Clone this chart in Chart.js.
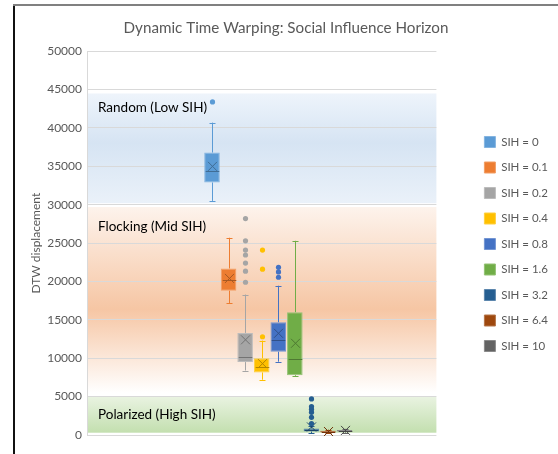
<!DOCTYPE html>
<html><head><meta charset="utf-8">
<script src="https://cdn.jsdelivr.net/npm/chart.js@4.4.1/dist/chart.umd.min.js"></script>
<style>
html,body{margin:0;padding:0;background:#fff;}
#wrap{position:relative;width:558px;height:454px;overflow:hidden;}
canvas{position:absolute;left:0;top:0;}
#fl{position:absolute;left:13px;top:4px;width:2px;height:450px;background:#111;}
#ft{position:absolute;left:13px;top:4px;width:545px;height:2px;background:#808080;}
</style></head><body>
<div id="wrap"><canvas id="c" width="558" height="454"></canvas><div id="fl"></div><div id="ft"></div></div>
<script>
// ---- data ----
const seriesNames = ['SIH = 0','SIH = 0.1','SIH = 0.2','SIH = 0.4','SIH = 0.8','SIH = 1.6','SIH = 3.2','SIH = 6.4','SIH = 10'];
const seriesColors = ['#5b9bd5','#ed7d31','#a5a5a5','#ffc000','#4472c4','#70ad47','#255e91','#9e480e','#636363'];
const whiskerLow  = [30500, 17200,  8400,  7200,  9550,  7700,  250, 250, 300];
const quartile1   = [32900, 18800,  9500,  8150, 10850,  7800,  450, 350, 450];
const medianVal   = [34400, 20200, 10200,  8800, 12350,  9850,  650, 450, 550];
const quartile3   = [36800, 21700, 13300, 10000, 14700, 16000,  850, 550, 650];
const whiskerHigh = [40700, 25700, 18300, 12300, 19450, 25300, 1200, 700, 800];
const meanVal     = [35000, 20400, 12400,  9300, 13250, 11950, 1050, 450, 600];
const outliers = [
  [43400],
  [],
  [19900, 21350, 22400, 23450, 24100, 25300, 28200],
  [12800, 21600, 24100],
  [20550, 21250, 21850],
  [],
  [1500, 2300, 2950, 3350, 3700, 4700],
  [],
  []
];
const yTicksMax = 50000;
const yTickStep = 5000;
const bandNames  = ['Random (Low SIH)', 'Flocking (Mid SIH)', 'Polarized (High SIH)'];
const bandTop    = [44500, 29700, 5000];
const bandBottom = [30200, 5500, 300];
const bandLabelAt = [42700, 27200, 2700];

// ---- helpers ----
function shade(hex, f){
  const n = parseInt(hex.slice(1),16);
  let r=(n>>16)&255,g=(n>>8)&255,b=n&255;
  if(f<0){r=Math.round(r*(1+f));g=Math.round(g*(1+f));b=Math.round(b*(1+f));}
  else{r=Math.round(r+(255-r)*f);g=Math.round(g+(255-g)*f);b=Math.round(b+(255-b)*f);}
  return `rgb(${r},${g},${b})`;
}
const FONT = 'Lato';

const bandGrad = [
  [[0,'#eef4fb'],[0.45,'#d6e4f3'],[1,'#eaf1f9']],
  [[0,'#fdf3ec'],[0.55,'#f6c6a4'],[1,'#ffffff']],
  [[0,'#e9f3e1'],[1,'#c3dfaf']]
];

const bandsPlugin = {
  id:'bands',
  beforeDraw(chart){
    const {ctx, chartArea:a, scales:{y}} = chart;
    ctx.save();
    for(let i=0;i<bandNames.length;i++){
      const t = y.getPixelForValue(bandTop[i]);
      const b = y.getPixelForValue(bandBottom[i]);
      const g = ctx.createLinearGradient(0,t,0,b);
      bandGrad[i].forEach(s=>g.addColorStop(s[0],s[1]));
      ctx.fillStyle = g;
      ctx.fillRect(a.left, t, a.right-a.left, b-t);
    }
    ctx.restore();
  },
  beforeDatasetsDraw(chart){
    const {ctx, chartArea:a, scales:{y}} = chart;
    ctx.save();
    ctx.font = `13.5px ${FONT}`;
    ctx.fillStyle = '#000';
    ctx.textBaseline = 'middle';
    ctx.textAlign = 'left';
    for(let i=0;i<bandNames.length;i++){
      ctx.fillText(bandNames[i], a.left+11, y.getPixelForValue(bandLabelAt[i]));
    }
    ctx.restore();
  }
};

const DUMMY = 2;
const boxPlugin = {
  id:'boxExtras',
  afterDatasetsDraw(chart){
    const {ctx, scales:{y}} = chart;
    ctx.save();
    for(let i=0;i<seriesNames.length;i++){
      const meta = chart.getDatasetMeta(i+DUMMY);
      const el = meta.data[0];
      if(!el) continue;
      const x = Math.round(el.x)+0.5;
      const hw = el.width/2;
      const col = seriesColors[i];
      const dark = shade(col,-0.3);
      const py = v=>y.getPixelForValue(v);
      ctx.lineWidth = 1;
      ctx.strokeStyle = col;
      // whiskers
      ctx.beginPath();
      ctx.moveTo(x, py(quartile3[i])); ctx.lineTo(x, py(whiskerHigh[i]));
      ctx.moveTo(x, py(quartile1[i])); ctx.lineTo(x, py(whiskerLow[i]));
      const cap = 3;
      const yh = Math.round(py(whiskerHigh[i]))+0.5, yl = Math.round(py(whiskerLow[i]))+0.5;
      ctx.moveTo(x-cap, yh); ctx.lineTo(x+cap, yh);
      ctx.moveTo(x-cap, yl); ctx.lineTo(x+cap, yl);
      ctx.stroke();
      // median
      ctx.strokeStyle = dark;
      ctx.beginPath();
      const ym = Math.round(py(medianVal[i]))+0.5;
      ctx.moveTo(x-hw+1, ym); ctx.lineTo(x+hw-1, ym);
      ctx.stroke();
      // mean X
      const xm = py(meanVal[i]); const s = 4.5;
      ctx.beginPath();
      ctx.moveTo(x-s, xm-s); ctx.lineTo(x+s, xm+s);
      ctx.moveTo(x-s, xm+s); ctx.lineTo(x+s, xm-s);
      ctx.stroke();
      // outliers
      ctx.fillStyle = col;
      outliers[i].forEach(v=>{
        ctx.beginPath();
        ctx.arc(x, py(v), 2.6, 0, Math.PI*2);
        ctx.fill();
      });
    }
    ctx.restore();
  }
};

const datasets = [];
for(let k=0;k<DUMMY;k++){
  datasets.push({label:'', data:[null], backgroundColor:'rgba(0,0,0,0)', categoryPercentage:0.5216, barPercentage:0.94});
}
seriesNames.forEach((n,i)=>{
  datasets.push({
    label:n,
    data:[[quartile1[i], quartile3[i]]],
    backgroundColor: seriesColors[i],
    borderColor: shade(seriesColors[i],0.25),
    borderWidth:1,
    borderSkipped:false,
    categoryPercentage:0.5216,
    barPercentage:0.94
  });
});

new Chart(document.getElementById('c'), {
  type:'bar',
  data:{labels:[''], datasets},
  plugins:[bandsPlugin, boxPlugin],
  options:{
    responsive:false,
    animation:false,
    layout:{padding:{top:19,left:14,right:0,bottom:19}},
    plugins:{
      tooltip:{enabled:false},
      title:{display:true, text:'Dynamic Time Warping: Social Influence Horizon', color:'#595959',
        font:{family:FONT, size:15.2, weight:'normal'}, padding:{top:0,bottom:14}},
      legend:{position:'right', align:'center',
        title:{display:true, text:' ', font:{size:10}, padding:{top:11,bottom:11}},
        labels:{boxWidth:11, boxHeight:11, padding:14, color:'#595959',
          font:{family:FONT, size:11.5},
          filter:item=>item.text!==''}}
    },
    scales:{
      x:{display:false},
      y:{min:0, max:yTicksMax,
        ticks:{stepSize:yTickStep, color:'#595959', font:{family:FONT,size:12}, padding:5,
          callback:v=>String(v)},
        grid:{color:'#d9d9d9', drawTicks:false},
        border:{display:true, color:'#d9d9d9'},
        title:{display:true, text:'DTW displacement', color:'#595959', font:{family:FONT,size:12}, padding:{top:15,bottom:0}},
        afterFit(s){s.width = 73;}
      },
      yr:{position:'right', type:'linear', display:true,
        grid:{display:false}, ticks:{display:false}, border:{display:false},
        afterFit(s){s.width = 34;}
      }
    }
  }
});
</script>
</body></html>
